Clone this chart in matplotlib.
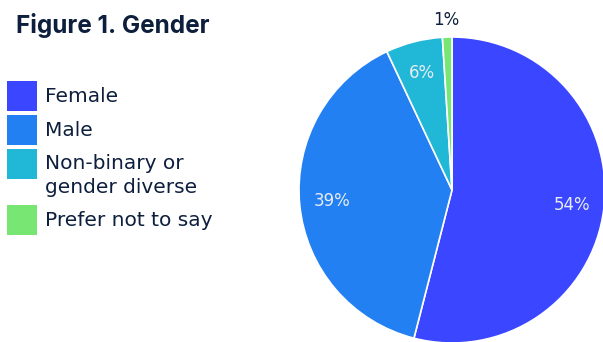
import matplotlib
matplotlib.use("Agg")
import matplotlib.pyplot as plt
from matplotlib.patches import Rectangle

W, H = 603, 342
NAVY = "#0d1f3c"
BODY = "DejaVu Sans"

categories = ["Female", "Male", "Non-binary or\ngender diverse", "Prefer not to say"]
shares = [54, 39, 6, 1]
colors = ["#3a46ff", "#2380f2", "#20b8d6", "#77e673"]

fig = plt.figure(figsize=(W / 100, H / 100), dpi=100, facecolor="white")

# pie axes: centre ~ (452, 190) px, radius ~153 px
cx, cy, r = 452, 190, 153
ax = fig.add_axes([(cx - r) / W, (H - cy - r) / H, 2 * r / W, 2 * r / H])
wedges, texts, autotexts = ax.pie(
    shares, colors=colors, startangle=90, counterclock=False,
    autopct=lambda p: f"{p:.0f}%", pctdistance=0.79,
    wedgeprops=dict(edgecolor="white", linewidth=1.2),
    textprops=dict(color="#e8ecf5", fontsize=12, family=BODY),
)
ax.set_xlim(-1, 1)
ax.set_ylim(-1, 1)
ax.set_aspect("equal")

# the small slice gets its label outside
small = autotexts[-1]
x0, y0 = small.get_position()
small.set_position((x0 * 1.11 / 0.79, y0 * 1.11 / 0.79))
small.set_color(NAVY)

fig.text(16 / W, 1 - 25 / H, "Figure 1. Gender", fontsize=17.5, fontweight="bold",
         color=NAVY, family="Inter", va="center", ha="left")

# legend squares (top edge in px) and labels, one text per line
tops = [81, 115, 149, 205]
for top, lab, col in zip(tops, categories, colors):
    fig.add_artist(Rectangle((7 / W, 1 - (top + 30) / H), 30 / W, 30 / H,
                             transform=fig.transFigure, color=col, lw=0))
    for i, line in enumerate(lab.split("\n")):
        fig.text(45 / W, 1 - (top + 13 + 23 * i) / H, line, fontsize=14.5,
                 color=NAVY, family=BODY, va="center_baseline", ha="left")

fig.savefig("out.png", dpi=100, facecolor="white")
